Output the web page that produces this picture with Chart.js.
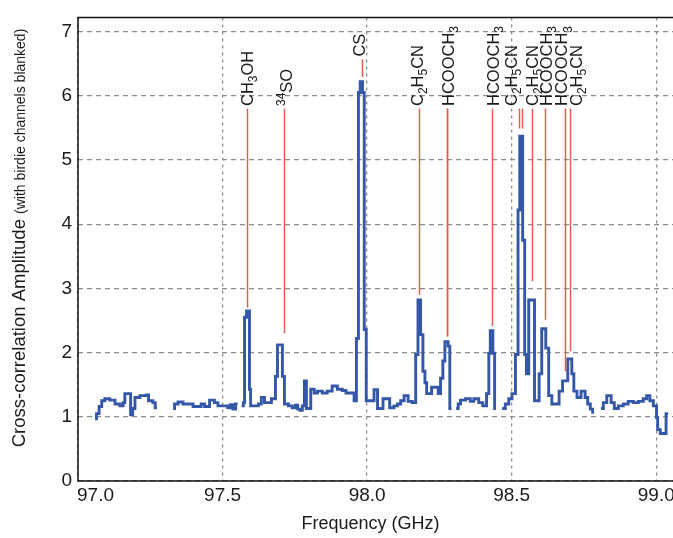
<!DOCTYPE html>
<html>
<head>
<meta charset="utf-8">
<script src="https://cdn.jsdelivr.net/npm/chart.js@4.4.1/dist/chart.umd.min.js"></script>
<style>
  html, body { margin: 0; padding: 0; background: #fff; }
</style>
</head>
<body>
<canvas id="chart" width="673" height="538"></canvas>
<script>
// channel start frequencies (GHz) and amplitudes, null = blanked birdie channels
const freq = [
  97.059, 97.064, 97.073, 97.082, 97.093, 97.110, 97.128, 97.145, 97.156, 97.162,
  97.182, 97.189, 97.197, 97.214, 97.236, 97.244, 97.259, 97.267, 97.273, 97.300,
  97.329, 97.334, 97.346, 97.363, 97.398, 97.426, 97.438, 97.455, 97.472, 97.484,
  97.518, 97.527, 97.536, 97.545, 97.552, 97.560,
  97.566, 97.572, 97.576, 97.583, 97.593, 97.597, 97.624, 97.634, 97.645, 97.669,
  97.683, 97.690, 97.707, 97.714, 97.728, 97.741, 97.752, 97.760, 97.768, 97.776,
  97.783, 97.790, 97.805, 97.817, 97.828, 97.845, 97.862, 97.879, 97.897, 97.914,
  97.927, 97.955, 97.963, 97.970, 97.976, 97.984, 97.990, 97.997,
  98.024, 98.036, 98.055, 98.078, 98.093, 98.105, 98.116, 98.128, 98.142, 98.156,
  98.168, 98.176, 98.185, 98.193, 98.200, 98.206, 98.223, 98.246, 98.254, 98.262,
  98.269, 98.280, 98.286, 98.292, 98.300,
  98.308, 98.315, 98.323, 98.340, 98.357, 98.369, 98.386, 98.400, 98.413, 98.421,
  98.426, 98.435, 98.441, 98.446, 98.455,
  98.467, 98.478, 98.490, 98.501, 98.513, 98.522, 98.528, 98.538, 98.545, 98.551,
  98.559, 98.579, 98.595, 98.604, 98.618, 98.628, 98.639, 98.664, 98.676, 98.694,
  98.708, 98.715, 98.726, 98.740, 98.754, 98.763, 98.772, 98.780, 98.785, 98.795,
  98.809, 98.817, 98.829, 98.844, 98.855, 98.869, 98.886, 98.903, 98.921, 98.938,
  98.955, 98.967, 98.978, 98.990, 99.001, 99.005, 99.014, 99.034, 99.041
];
const amp = [
  0.97, 1.05, 1.16, 1.25, 1.28, 1.26, 1.20, 1.17, 1.22, 1.36,
  1.03, 1.13, 1.30, 1.33, 1.34, 1.25, 1.22, 1.14, 1.14, null,
  1.13, 1.20, 1.23, 1.20, 1.16, 1.20, 1.16, 1.26, 1.22, 1.17,
  1.14, 1.19, 1.12, 1.20, 1.20, null,
  1.17, 1.22, 2.55, 2.65, 1.43, 1.17, 1.20, 1.30, 1.22, 1.28,
  1.63, 2.12, 1.63, 1.20, 1.17, 1.14, 1.18, 1.12, 1.10, 1.17,
  1.56, 1.13, 1.43, 1.37, 1.40, 1.37, 1.40, 1.48, 1.43, 1.41,
  1.37, 1.25, 2.22, 6.05, 6.22, 6.05, 2.36, 1.25,
  1.42, 1.13, 1.28, 1.14, 1.17, 1.20, 1.25, 1.33, 1.24, 1.22,
  1.97, 2.82, 2.28, 1.71, 1.53, 1.36, 1.46, 1.36, 1.60, 1.87,
  2.17, 2.10, 1.13, 1.13, null,
  1.13, 1.20, 1.26, 1.28, 1.24, 1.28, 1.22, 1.17, 1.36, 1.99,
  2.34, 1.99, 1.13, 1.13, null,
  1.13, 1.20, 1.28, 1.36, 1.97, 4.22, 5.37, 3.75, 1.97, 1.67,
  2.82, 1.25, 1.67, 2.37, 2.07, 1.33, 1.20, 1.40, 1.56, 1.90,
  1.67, 1.40, 1.30, 1.40, 1.30, 1.20, 1.12, 1.07, 1.07, null,
  1.13, 1.22, 1.33, 1.22, 1.13, 1.17, 1.20, 1.24, 1.22, 1.24,
  1.28, 1.33, 1.25, 1.17, 0.99, 0.80, 0.74, 1.05, 1.05
];

const xTicks = [97.0, 97.5, 98.0, 98.5, 99.0];
const yTicks = [0, 1, 2, 3, 4, 5, 6, 7];

// identified transitions: marker frequency, where it stops above the peak, where it starts under the label
const markFreq = [97.583, 97.714, 97.983, 98.179, 98.275, 98.278, 98.431, 98.524, 98.534, 98.569, 98.614, 98.686, 98.703];
const markTip  = [2.70, 2.30, 6.29, 2.90, 2.25, 2.25, 2.41, 5.49, 5.49, 3.11, 2.51, 1.71, 2.02];
const markTop  = [5.80, 5.80, 6.57, 5.80, 5.80, 5.80, 5.80, 5.80, 5.80, 5.80, 5.80, 5.80, 5.80];

// species labels (_n subscript, ^n superscript)
const labelText = ['CH_3OH', '^34SO', 'CS', 'C_2H_5CN', 'HCOOCH_3', 'HCOOCH_3', 'C_2H_5CN', 'C_2H_5CN', 'HCOOCH_3', 'HCOOCH_3', 'C_2H_5CN'];
const labelFreq = [97.583, 97.721, 97.972, 98.172, 98.279, 98.434, 98.497, 98.569, 98.617, 98.672, 98.721];
const labelBase = [5.84, 5.84, 6.61, 5.84, 5.84, 5.84, 5.84, 5.84, 5.84, 5.84, 5.84];

const FONT = 'Arial, "Liberation Sans", Helvetica, sans-serif';
const INK = '#1a1a1a';

// draws rotated text with sub/superscripts, reading bottom to top
function drawRich(ctx, str, x, y, size) {
  const small = Math.round(size * 0.75);
  const parts = str.match(/[_^]\d+|[^_^]+/g);
  ctx.save();
  ctx.translate(x, y);
  ctx.rotate(-Math.PI / 2);
  ctx.textAlign = 'left';
  ctx.textBaseline = 'alphabetic';
  let pos = 0;
  parts.forEach(p => {
    let dy = 0, s = size, t = p;
    if (p[0] === '_') { t = p.slice(1); s = small; dy = size * 0.28; }
    else if (p[0] === '^') { t = p.slice(1); s = small; dy = -size * 0.45; }
    ctx.font = s + 'px ' + FONT;
    ctx.fillText(t, pos, dy);
    pos += ctx.measureText(t).width;
  });
  ctx.restore();
}

const decor = {
  id: 'decor',
  afterDatasetsDraw(chart) {
    const ctx = chart.ctx;
    const xs = chart.scales.x, ys = chart.scales.y;

    // red marker lines
    ctx.save();
    ctx.strokeStyle = '#e0604e';
    ctx.lineWidth = 1.5;
    markFreq.forEach((f, i) => {
      const px = Math.round(xs.getPixelForValue(f)) + 0.5;
      ctx.beginPath();
      ctx.moveTo(px, ys.getPixelForValue(markTop[i]));
      ctx.lineTo(px, ys.getPixelForValue(markTip[i]));
      ctx.stroke();
    });
    ctx.restore();

    // species labels
    ctx.save();
    ctx.fillStyle = INK;
    labelText.forEach((t, i) => {
      drawRich(ctx, t, xs.getPixelForValue(labelFreq[i]) + 6, ys.getPixelForValue(labelBase[i]), 16.5);
    });
    ctx.restore();
  },
  afterDraw(chart) {
    const ctx = chart.ctx;
    const a = chart.chartArea;
    const xs = chart.scales.x;

    // axis box (left, bottom, top)
    ctx.save();
    ctx.strokeStyle = '#111';
    ctx.lineWidth = 1.5;
    ctx.beginPath();
    ctx.moveTo(a.right, a.top);
    ctx.lineTo(a.left, a.top);
    ctx.lineTo(a.left, a.bottom);
    ctx.lineTo(a.right, a.bottom);
    ctx.stroke();

    // x tick labels
    ctx.fillStyle = INK;
    ctx.font = '19px ' + FONT;
    ctx.textBaseline = 'top';
    xTicks.forEach((v, i) => {
      const px = xs.getPixelForValue(v);
      ctx.textAlign = i === 0 ? 'left' : 'center';
      ctx.fillText(v.toFixed(1), i === 0 ? px - 1 : px, a.bottom + 5);
    });

    // x title
    ctx.font = '18px ' + FONT;
    ctx.textAlign = 'center';
    ctx.textBaseline = 'alphabetic';
    ctx.fillText('Frequency (GHz)', (a.left + a.right) / 2 - 5, 529);

    // y title, large main part plus small note
    const big = 'Cross-correlation Amplitude ';
    const note = '(with birdie channels blanked)';
    ctx.font = '18.5px ' + FONT;
    const wBig = ctx.measureText(big).width;
    ctx.font = '14px ' + FONT;
    const wNote = ctx.measureText(note).width;
    ctx.translate(25, 238);
    ctx.rotate(-Math.PI / 2);
    ctx.textAlign = 'left';
    const start = -(wBig + wNote) / 2;
    ctx.font = '18.5px ' + FONT;
    ctx.fillText(big, start, 0);
    ctx.font = '14px ' + FONT;
    ctx.fillText(note, start + wBig, 0);
    ctx.restore();
  }
};

const points = freq.map((f, i) => ({ x: f, y: amp[i] }));

new Chart(document.getElementById('chart'), {
  type: 'line',
  data: {
    datasets: [{
      data: points,
      stepped: true,
      spanGaps: false,
      borderColor: '#3457a8',
      borderWidth: 2.9,
      pointRadius: 0,
      fill: false
    }]
  },
  options: {
    responsive: false,
    animation: false,
    devicePixelRatio: 1,
    layout: { padding: { top: 13, right: 0, bottom: 0, left: 0 } },
    plugins: { legend: { display: false }, tooltip: { enabled: false } },
    scales: {
      x: {
        type: 'linear',
        min: 97.0,
        max: 99.058,
        afterBuildTicks: s => { s.ticks = xTicks.map(v => ({ value: v })); },
        afterFit: s => { s.height = 57; },
        ticks: { display: false },
        grid: { color: '#8c8c8c', lineWidth: 1.3, drawTicks: false },
        border: { display: false, dash: [3, 4] }
      },
      y: {
        min: 0,
        max: 7.22,
        afterBuildTicks: s => { s.ticks = yTicks.map(v => ({ value: v })); },
        afterFit: s => { s.width = 78; },
        ticks: { color: INK, font: { size: 19, family: FONT }, padding: 6 },
        grid: { color: '#8c8c8c', lineWidth: 1.3, drawTicks: false },
        border: { display: false, dash: [5, 4] }
      }
    }
  },
  plugins: [decor]
});
</script>
</body>
</html>
